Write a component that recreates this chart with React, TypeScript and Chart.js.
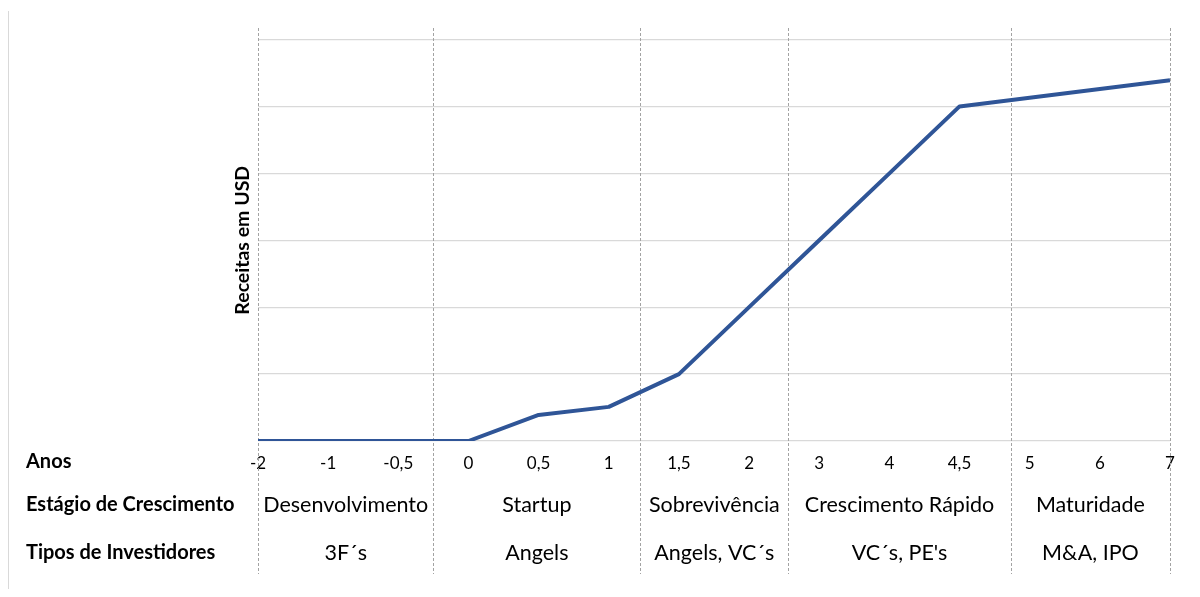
import React, { useEffect, useRef } from 'react';
import { Chart, registerables } from 'chart.js';

Chart.register(...registerables);

// Years since founding (x categories) and revenue level at each year
const years = ['-2', '-1', '-0,5', '0', '0,5', '1', '1,5', '2', '3', '4', '4,5', '5', '6', '7'];
const revenue = [0, 0, 0, 0, 0.39, 0.51, 1, 2, 3, 4, 5, 5.13, 5.26, 5.39];

// Growth stages and the investor types that fund each stage
const stages = ['Desenvolvimento', 'Startup', 'Sobrevivência', 'Crescimento Rápido', 'Maturidade'];
const investors = ['3F´s', 'Angels', 'Angels, VC´s', "VC´s, PE's", 'M&A, IPO'];
// Stage boundaries, expressed as positions on the category axis
const stageBounds = [0, 2.5, 5.45, 7.56, 10.73, 13];

const rowTitles = ['Anos', 'Estágio de Crescimento', 'Tipos de Investidores'];
const yTitle = 'Receitas em USD';

const FONT = 'Lato, "Open Sans", sans-serif';

const stageTable = {
  id: 'stageTable',
  beforeDatasetsDraw(chart: any) {
    const { ctx } = chart;
    const x = chart.scales.x;
    ctx.save();
    // light frame on the left edge
    ctx.strokeStyle = '#d9d9d9';
    ctx.lineWidth = 1;
    ctx.beginPath();
    ctx.moveTo(0.5, 3);
    ctx.lineTo(0.5, chart.height);
    ctx.stroke();
    // dashed stage separators
    ctx.strokeStyle = '#a3a3a3';
    ctx.setLineDash([3, 2]);
    stageBounds.forEach((b) => {
      const px = Math.round(x.getPixelForValue(b)) + 0.5;
      ctx.beginPath();
      ctx.moveTo(px, 20);
      ctx.lineTo(px, 566);
      ctx.stroke();
    });
    ctx.restore();
  },
  afterDraw(chart: any) {
    const { ctx, chartArea } = chart;
    const x = chart.scales.x;
    const rowY = [chartArea.bottom + 21, chartArea.bottom + 64, chartArea.bottom + 112];
    ctx.save();
    ctx.fillStyle = '#000';
    ctx.textBaseline = 'middle';
    ctx.textAlign = 'left';
    ctx.font = `bold 20px ${FONT}`;
    rowTitles.forEach((t, i) => ctx.fillText(t, 18, rowY[i]));
    ctx.textAlign = 'center';
    ctx.font = `21.5px ${FONT}`;
    stages.forEach((s, i) => {
      const cx = (x.getPixelForValue(stageBounds[i]) + x.getPixelForValue(stageBounds[i + 1])) / 2;
      ctx.fillText(s, cx, rowY[1]);
      ctx.fillText(investors[i], cx, rowY[2]);
    });
    ctx.restore();
  },
};

export default function App() {
  const ref = useRef<HTMLCanvasElement>(null);

  useEffect(() => {
    if (!ref.current) return;
    const chart = new Chart(ref.current, {
      type: 'line',
      data: {
        labels: years,
        datasets: [
          {
            data: revenue,
            borderColor: '#2F5597',
            borderWidth: 4,
            pointRadius: 0,
            tension: 0,
            borderJoinStyle: 'round',
            fill: false,
          },
        ],
      },
      options: {
        responsive: false,
        animation: false,
        layout: { padding: { left: 210, right: 22, top: 31.5, bottom: 0 } },
        plugins: { legend: { display: false }, tooltip: { enabled: false } },
        scales: {
          x: {
            offset: false,
            grid: { display: false, drawTicks: false },
            border: { display: false },
            ticks: {
              color: '#000',
              font: { family: FONT, size: 17 },
              padding: 12,
              autoSkip: false,
              maxRotation: 0,
            },
            afterFit: (scale: any) => {
              scale.height = 148;
            },
          },
          y: {
            min: 0,
            max: 6,
            ticks: { display: false, stepSize: 1 },
            grid: { color: '#d9d9d9', lineWidth: 1.2, drawTicks: false },
            border: { display: false },
            title: {
              display: true,
              text: yTitle,
              color: '#000',
              font: { family: FONT, size: 19.5, weight: 'bold' },
              padding: { top: 13, bottom: 0 },
            },
            afterFit: (scale: any) => {
              scale.width = 40;
            },
          },
        },
      },
      plugins: [stageTable],
    });
    return () => chart.destroy();
  }, []);

  return (
    <div style={{ width: 1184, height: 581 }}>
      <canvas ref={ref} width={1184} height={581} />
    </div>
  );
}
